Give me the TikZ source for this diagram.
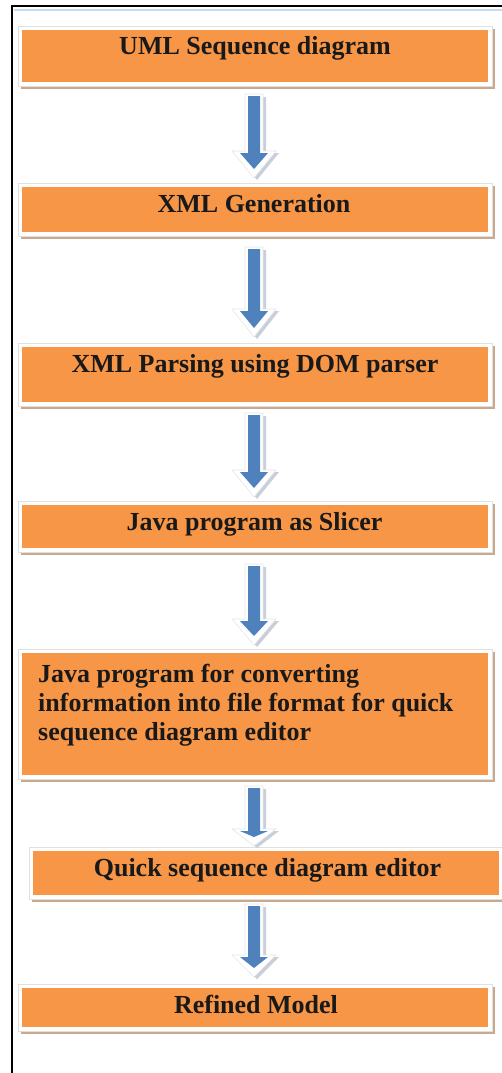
\documentclass[tikz,border=0pt]{standalone}
\usepackage{fontspec}
\setmainfont{Liberation Serif}
\usetikzlibrary{calc,shadows}

\definecolor{boxorange}{HTML}{F79646}
\definecolor{arrowblue}{HTML}{4F81BD}
\definecolor{arrowshade}{HTML}{C9CFD9}
\definecolor{arrowedge}{HTML}{E2E5EA}
\definecolor{frameedge}{HTML}{E0E0E0}
\definecolor{boxshadow}{HTML}{C9A88B}
\definecolor{rulerblue}{HTML}{C6D9F1}

% Bevelled block arrow from the bottom of box #1 to the top of box #2.
% #3 gap below #1, #4 gap above #2, #5 length of the arrow head.
\newcommand\blockarrow[5]{%
  \coordinate (#1-top)  at ($(#1.south -| axis)+(0,#3)$);
  \coordinate (#1-tip)  at ($(#2.north -| axis)+(0,-#4)$);
  \coordinate (#1-neck) at ($(#1-tip)+(0,-#5)$);
  \fill[arrowshade]
    ($(#1-top)+(-6,1)$) -- ($(#1-top)+(12,1)$) -- ($(#1-neck)+(12,2)$) --
    ($(#1-neck)+(25,2)$) -- ($(#1-tip)+(3,2)$) -- ($(#1-neck)+(-19,2)$) --
    ($(#1-neck)+(-6,2)$) -- cycle;
  \filldraw[fill=white, draw=arrowedge, line width=0.6pt]
    ($(#1-top)+(-9,-2)$) -- ($(#1-top)+(9,-2)$) -- ($(#1-neck)+(9,0)$) --
    ($(#1-neck)+(22,0)$) -- (#1-tip) -- ($(#1-neck)+(-22,0)$) --
    ($(#1-neck)+(-9,0)$) -- cycle;
  \fill[arrowblue]
    ($(#1-top)+(-6,0)$) -- ($(#1-top)+(6,0)$) -- ($(#1-neck)+(6,2)$) --
    ($(#1-neck)+(14,2)$) -- ($(#1-tip)+(0,-9)$) -- ($(#1-neck)+(-14,2)$) --
    ($(#1-neck)+(-6,2)$) -- cycle;
}

\begin{document}
\begin{tikzpicture}[x=1pt,y=-1pt,
  flowbox/.style={rectangle, fill=white, draw=frameedge, line width=0.6pt,
    inner sep=0pt, outer sep=0pt, minimum width=474pt,
    drop shadow={shadow xshift=2.6pt, shadow yshift=-2.6pt, fill=boxshadow, opacity=1},
    path picture={\fill[boxorange]
      ([shift={(4pt,-4pt)}]path picture bounding box.north west) rectangle
      ([shift={(-4pt,4pt)}]path picture bounding box.south east);}},
  steptext/.style={font=\fontsize{26}{29}\selectfont\bfseries, text=black!90,
    inner sep=0pt, anchor=base},
]
\useasboundingbox (0,0) rectangle (502,1073);

% page frame
\draw[rulerblue, line width=1.5pt] (14,9.8) -- (503,9.8);
\draw[line width=2pt] (12,1075) -- (12,6) -- (504,6);

% process boxes
\node[flowbox, minimum height=60pt]  (b1) at (255,56)     {};
\node[flowbox, minimum height=53pt]  (b2) at (255,209.5)  {};
\node[flowbox, minimum height=63pt]  (b3) at (255,374.5)  {};
\node[flowbox, minimum height=51pt]  (b4) at (255,526.5)  {};
\node[flowbox, minimum height=130pt] (b5) at (255,714)    {};
\node[flowbox, minimum height=52pt]  (b6) at (266,873)    {};
\node[flowbox, minimum height=47pt]  (b7) at (255,1007.5) {};

% box captions
\node[steptext] (t1) at (255,55)    {UML Sequence diagram};
\node[steptext] (t2) at (254,212)   {XML Generation};
\node[steptext] (t3) at (255,372)   {XML Parsing using DOM parser};
\node[steptext] (t4) at (254.5,530) {Java program as Slicer};
\node[steptext, anchor=base west, align=left] (t5) at (38,740)
  {Java program for converting\\information into file format for quick\\sequence diagram editor};
\node[steptext] (t6) at (267.5,876) {Quick sequence diagram editor};
\node[steptext] (t7) at (256,1013)  {Refined Model};

% arrows between the steps
\coordinate (axis) at (254,0);
\blockarrow{b1}{b2}{10}{5}{27}
\blockarrow{b2}{b3}{13}{6}{28}
\blockarrow{b3}{b4}{9}{4}{27}
\blockarrow{b4}{b5}{14}{4}{26}
\blockarrow{b5}{b6}{9}{1}{17}
\blockarrow{b6}{b7}{7}{7}{22}
\end{tikzpicture}
\end{document}
